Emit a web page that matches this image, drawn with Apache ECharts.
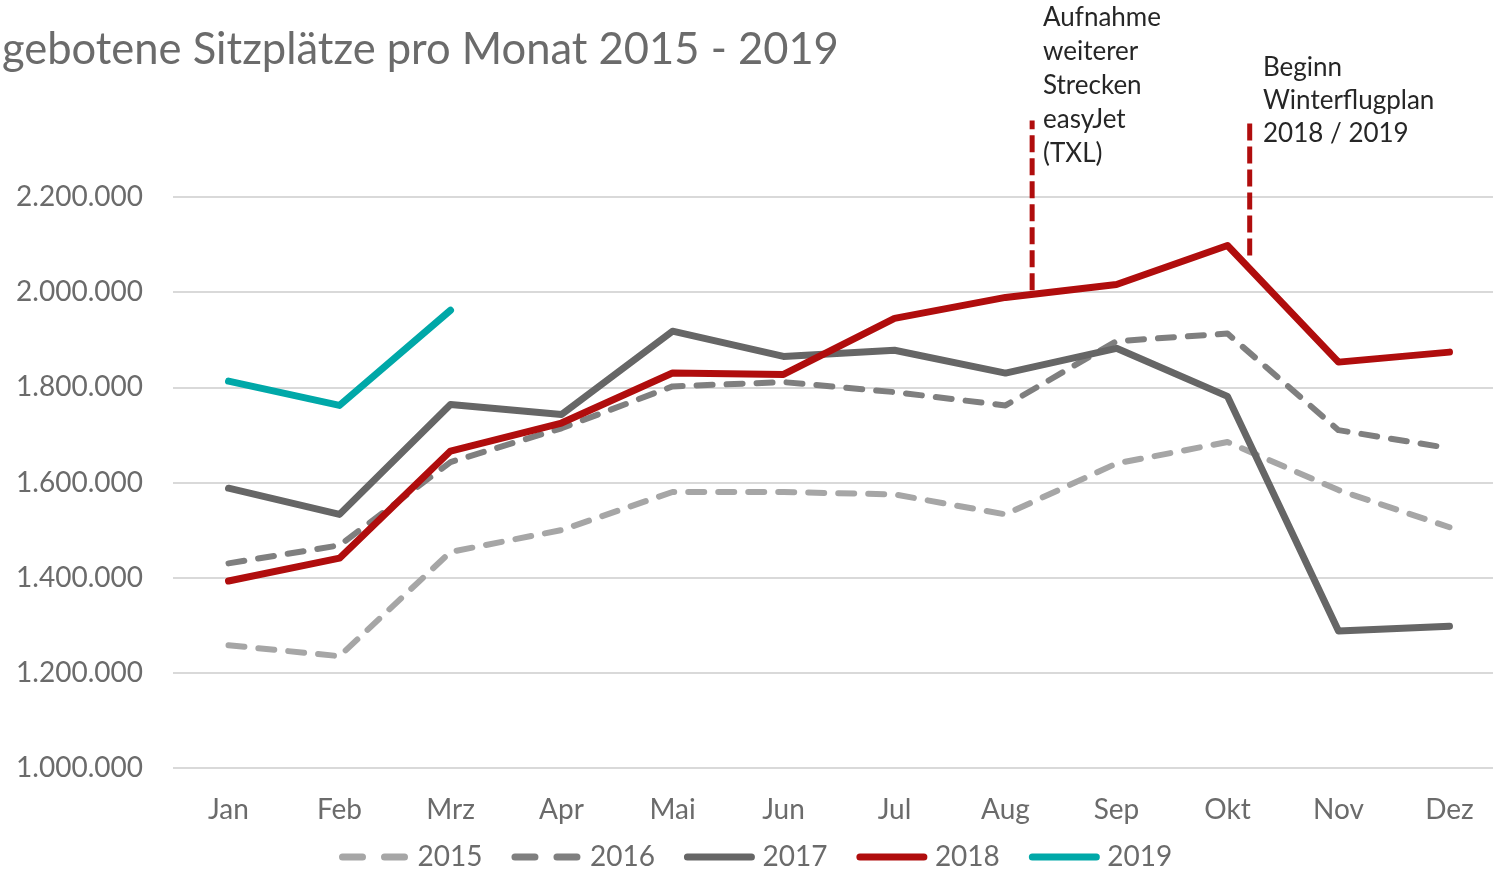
<!DOCTYPE html>
<html>
<head>
<meta charset="utf-8">
<script src="https://cdn.jsdelivr.net/npm/echarts@6/dist/echarts.min.js"></script>
<style>
  html, body { margin: 0; padding: 0; background: #fff; overflow: hidden; }
  /* plot area runs slightly past the right edge, as in the source image */
  #chart { width: 1505px; height: 869px; }
</style>
</head>
<body>
<div id="chart"></div>
<script>
// Angebotene Sitzplätze pro Monat (BER/TXL/SXF)
var MONTHS = ['Jan', 'Feb', 'Mrz', 'Apr', 'Mai', 'Jun', 'Jul', 'Aug', 'Sep', 'Okt', 'Nov', 'Dez'];

var Y2015 = [1258000, 1235000, 1454000, 1500000, 1580000, 1580000, 1575000, 1533000, 1640000, 1685000, 1584000, 1506000];
var Y2016 = [1430000, 1468000, 1643000, 1714000, 1802000, 1811000, 1790000, 1762000, 1897000, 1913000, 1710000, 1672000];
var Y2017 = [1588000, 1533000, 1764000, 1743000, 1918000, 1865000, 1878000, 1830000, 1882000, 1781000, 1288000, 1298000];
var Y2018 = [1393000, 1441000, 1666000, 1725000, 1830000, 1827000, 1945000, 1989000, 2016000, 2098000, 1853000, 1874000];
var Y2019 = [1813000, 1762000, 1962000];

var Y_TICKS = [1000000, 1200000, 1400000, 1600000, 1800000, 2000000, 2200000];

// annotation markers: position on month index scale, bottom and top value
var NOTE_EASYJET = [[7.24, 2004000], [7.24, 2361000]];
var NOTE_WINTER = [[9.2, 2077000], [9.2, 2361000]];

var GREY_TEXT = '#6b6b6b';
var FONT = 'Lato, "Open Sans", sans-serif';

function fmtDe(v) {
  return String(v).replace(/\B(?=(\d{3})+(?!\d))/g, '.');
}

var chart = echarts.init(document.getElementById('chart'), null, { renderer: 'canvas' });

function lineSeries(name, data, color, width, dashed) {
  return {
    name: name,
    type: 'line',
    data: data,
    symbol: 'none',
    lineStyle: {
      color: color,
      width: width,
      type: dashed ? [16, 14] : 'solid',
      cap: 'round',
      join: 'round'
    },
    itemStyle: { color: color },
    z: 3
  };
}

function noteSeries(data) {
  return {
    type: 'line',
    xAxisIndex: 1,
    data: data,
    symbol: 'none',
    clip: false,
    silent: true,
    lineStyle: { color: '#b00d0d', width: 5, type: [17, 6] },
    z: 2
  };
}

// legend keys: the dashed ones show two long dashes like the original
var legendDash = { type: [20, 22], width: 7, cap: 'round' };

chart.setOption({
  backgroundColor: '#fff',
  animation: false,
  textStyle: { fontFamily: FONT },
  grid: { left: 173, top: 197, bottom: 101, right: 0, containLabel: false },
  legend: {
    left: 334,
    top: 838,
    itemWidth: 64,
    itemHeight: 14,
    itemGap: 29,
    itemStyle: { opacity: 0 },
    lineStyle: { width: 7, cap: 'round' },
    textStyle: { color: GREY_TEXT, fontSize: 28, fontFamily: FONT, padding: [0, 0, 0, 6] },
    data: [
      { name: '2015', lineStyle: legendDash },
      { name: '2016', lineStyle: legendDash },
      '2017', '2018', '2019'
    ]
  },
  xAxis: [{
    type: 'category',
    data: MONTHS,
    axisLine: { show: false },
    axisTick: { show: false },
    axisLabel: { color: GREY_TEXT, fontSize: 28, margin: 28, fontFamily: FONT },
    splitLine: { show: false }
  }, {
    type: 'value',
    min: -0.5,
    max: 11.5,
    show: false
  }],
  yAxis: {
    type: 'value',
    min: 1000000,
    max: 2200000,
    interval: 200000,
    axisLine: { show: false },
    axisTick: { show: false },
    axisLabel: {
      color: GREY_TEXT, fontSize: 28, margin: 30, fontFamily: FONT,
      formatter: function (v) { return Y_TICKS.indexOf(v) >= 0 ? fmtDe(v) : ''; }
    },
    splitLine: { lineStyle: { color: '#d9d9d9', width: 2 } }
  },
  graphic: [{
    type: 'text',
    left: 2,
    top: 28,
    style: { text: 'gebotene Sitzplätze pro Monat 2015 - 2019', fill: GREY_TEXT, font: '43.5px ' + FONT }
  }, {
    type: 'text',
    left: 1043,
    top: 1,
    style: {
      text: 'Aufnahme\nweiterer\nStrecken\neasyJet\n(TXL)',
      fill: '#262626', font: '26px ' + FONT, lineHeight: 34
    }
  }, {
    type: 'text',
    left: 1263,
    top: 51,
    style: {
      text: 'Beginn\nWinterflugplan\n2018 / 2019',
      fill: '#262626', font: '26px ' + FONT, lineHeight: 33
    }
  }],
  series: [
    lineSeries('2015', Y2015, '#a6a6a6', 6, true),
    lineSeries('2016', Y2016, '#7f7f7f', 6, true),
    lineSeries('2017', Y2017, '#666666', 7, false),
    lineSeries('2018', Y2018, '#b00d0d', 7, false),
    lineSeries('2019', Y2019, '#00a8a8', 7, false),
    noteSeries(NOTE_EASYJET),
    noteSeries(NOTE_WINTER)
  ]
});
</script>
</body>
</html>
